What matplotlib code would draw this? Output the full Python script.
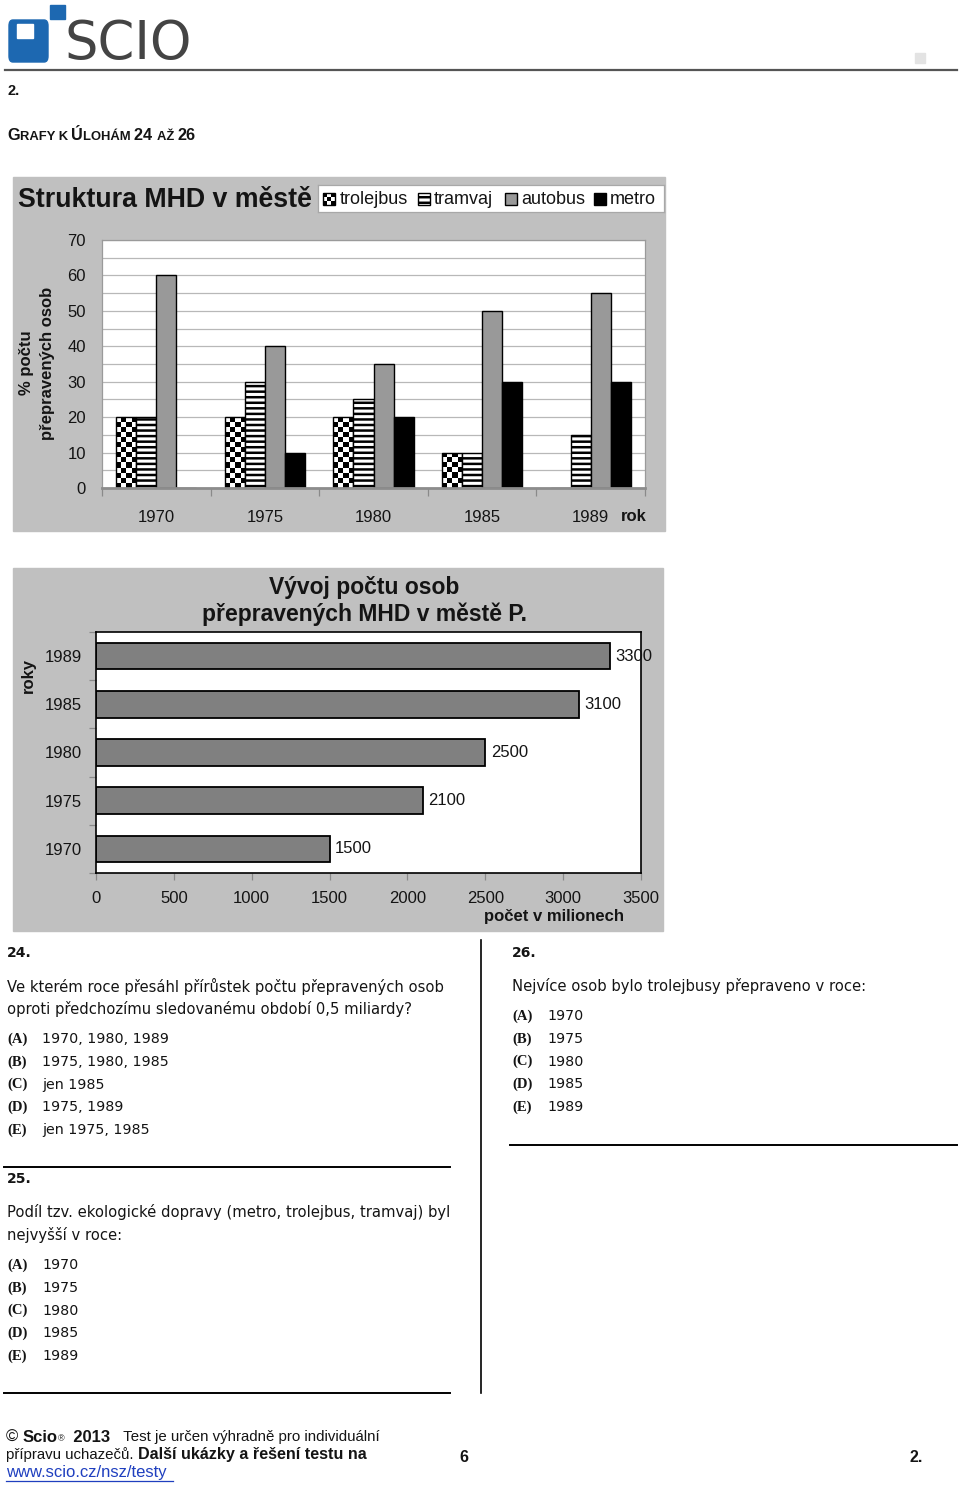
import numpy as np
import matplotlib
matplotlib.use('Agg')
import matplotlib.pyplot as plt
from matplotlib.patches import Rectangle, FancyBboxPatch
from matplotlib.offsetbox import TextArea, HPacker, AnnotationBbox

# data
years = ['1970', '1975', '1980', '1985', '1989']
trolejbus = [20, 20, 20, 10, 0]
tramvaj = [20, 30, 25, 10, 15]
autobus = [60, 40, 35, 50, 55]
metro = [0, 10, 20, 30, 30]
legend_names = ['trolejbus', 'tramvaj', 'autobus', 'metro']
osoby = [1500, 2100, 2500, 3100, 3300]   # pocet v milionech, 1970..1989

letters = ['(A)', '(B)', '(C)', '(D)', '(E)']
q24_text = ['Ve kterém roce přesáhl přírůstek počtu přepravených osob',
            'oproti předchozímu sledovanému období 0,5 miliardy?']
q24_opts = ['1970, 1980, 1989', '1975, 1980, 1985', 'jen 1985', '1975, 1989', 'jen 1975, 1985']
q25_text = ['Podíl tzv. ekologické dopravy (metro, trolejbus, tramvaj) byl',
            'nejvyšší v roce:']
q25_opts = years
q26_text = ['Nejvíce osob bylo trolejbusy přepraveno v roce:']
q26_opts = years

plt.rcParams['font.family'] = ['Liberation Sans', 'DejaVu Sans']
plt.rcParams['hatch.linewidth'] = 1.8

W, H = 960, 1485
fig = plt.figure(figsize=(9.6, 14.85), dpi=100)
fig.patch.set_facecolor('white')
INK = '#141414'
BODY = ['DejaVu Sans']


def fx(x):
    return x / W


def fy(y):
    return 1 - y / H


def box(x0, y0, x1, y1):
    return [fx(x0), fy(y1), (x1 - x0) / W, (y1 - y0) / H]


def txt(x, y, s, **kw):
    kw.setdefault('va', 'center')
    kw.setdefault('color', INK)
    return fig.text(fx(x), fy(y), s, **kw)


def rect(x0, y0, x1, y1, **kw):
    fig.add_artist(Rectangle((fx(x0), fy(y1)), (x1 - x0) / W, (y1 - y0) / H,
                             transform=fig.transFigure, **kw))


def hline(x0, x1, y, lw=1.5, color='black'):
    fig.add_artist(plt.Line2D([fx(x0), fx(x1)], [fy(y), fy(y)], lw=lw, color=color,
                              transform=fig.transFigure))


def vline(x, y0, y1, lw=1.5, color='black'):
    fig.add_artist(plt.Line2D([fx(x), fx(x)], [fy(y0), fy(y1)], lw=lw, color=color,
                              transform=fig.transFigure))


def pieces(x, y, parts):
    boxes = [TextArea(s, textprops=dict(color=INK, **p)) for s, p in parts]
    pack = HPacker(children=boxes, align='baseline', pad=0, sep=0)
    ab = AnnotationBbox(pack, (fx(x), fy(y)), xycoords='figure fraction',
                        box_alignment=(0, 0.5), frameon=False, pad=0)
    fig.add_artist(ab)


def checker(ax, x0, y0, w, h, ncols, cell, clip=None, z=1.5):
    nrows = max(1, int(np.ceil(h / cell)))
    img = np.indices((nrows, ncols)).sum(0) % 2
    im = ax.imshow(img, cmap='gray', vmin=0, vmax=1, origin='lower', interpolation='nearest',
                   extent=(x0, x0 + w, y0, y0 + nrows * cell), aspect='auto', zorder=z)
    if clip is not None:
        im.set_clip_path(clip)
    return im


# ---------------- header ----------------
blue = '#1d68b1'
fig.add_artist(FancyBboxPatch((fx(9), fy(62)), 39 / W, 42 / H,
                              boxstyle='round,pad=0,rounding_size=0.004',
                              transform=fig.transFigure, color=blue))
rect(50, 5, 65, 19, color=blue)
rect(17, 24, 33, 38, color='white')
txt(64, 44, 'SCIO', fontsize=38, color='#444444', family=['DejaVu Sans'], va='center')
hline(5, 957, 70, lw=1.6, color='#555555')
rect(915, 53, 925, 63, color='#e3e3e3')

txt(7, 91, '2.', fontsize=10.5, fontweight='bold', family=['Liberation Sans'])
big = dict(fontsize=11.7, fontweight='bold', family=['Liberation Sans'])
small = dict(fontsize=9.4, fontweight='bold', family=['Liberation Sans'])
pieces(7, 135, [('G', big), ('RAFY K ', small), ('Ú', big), ('LOHÁM ', small),
                ('24 ', big), ('AŽ ', small), ('26', big)])

# ---------------- chart 1 ----------------
rect(13, 177, 665, 531, color='#c0c0c0', zorder=-5)
ax1 = fig.add_axes(box(102, 240, 645, 488))
ax1.set_facecolor('white')
ax1.set_axisbelow(True)
bw = 0.185
xs = np.arange(len(years))
cell1 = 70 / 248 * 5.1

b_trol = ax1.bar(xs - 1.5 * bw, trolejbus, bw, facecolor='none', edgecolor='black', lw=1, zorder=2)
for p in b_trol.patches:
    if p.get_height() > 0:
        checker(ax1, p.get_x(), 0, p.get_width(), p.get_height(), 4, cell1, clip=p)
ax1.bar(xs - 0.5 * bw, tramvaj, bw, facecolor='white', edgecolor='black', lw=1,
        hatch='---', zorder=2)
ax1.bar(xs + 0.5 * bw, autobus, bw, facecolor='#999999', edgecolor='black', lw=1, zorder=2)
ax1.bar(xs + 1.5 * bw, metro, bw, facecolor='black', edgecolor='black', lw=1, zorder=2)

ax1.set_xlim(-0.5, len(years) - 0.5)
ax1.set_ylim(0, 70)
ax1.set_yticks(np.arange(0, 71, 10))
ax1.set_yticks(np.arange(5, 70, 10), minor=True)
ax1.yaxis.grid(True, which='both', color='#b8b8b8', lw=0.9)
ax1.set_xticks(xs)
ax1.set_xticklabels(years)
ax1.set_xticks(np.arange(-0.5, len(years)), minor=True)
ax1.tick_params(axis='x', which='major', length=0, pad=16, labelsize=12, labelcolor=INK)
ax1.tick_params(axis='x', which='minor', length=6, color='#8a8a8a', width=0.9)
ax1.tick_params(axis='y', which='both', length=0, pad=11.5, labelsize=12, labelcolor=INK)
for s in ['top', 'right', 'left']:
    ax1.spines[s].set_color('#9a9a9a')
    ax1.spines[s].set_linewidth(0.9)
ax1.spines['bottom'].set_color('#8c8c8c')
ax1.spines['bottom'].set_linewidth(2)

txt(18, 200, 'Struktura MHD v městě', fontsize=19.3, fontweight='bold', ha='left')
txt(634, 517, 'rok', fontsize=12, fontweight='bold', ha='center')
txt(27, 363, '% počtu', fontsize=12, fontweight='bold', rotation=90, ha='center')
txt(48, 363, 'přepravených osob', fontsize=12, fontweight='bold', rotation=90, ha='center')

# legend
axl = fig.add_axes(box(318, 185, 664, 212))
axl.set_xticks([])
axl.set_yticks([])
for s in axl.spines.values():
    s.set_color('#a8a8a8')
    s.set_linewidth(0.9)
icon_x = [5, 100, 187, 276]
text_x = [22, 116, 203, 292]
for i, name in enumerate(legend_names):
    r = Rectangle((icon_x[i], 8), 12, 12, lw=1, edgecolor='black', zorder=3,
                  facecolor=['none', 'white', '#999999', 'black'][i],
                  hatch='-' * 3 if i == 1 else None)
    axl.add_patch(r)
    if i == 0:
        checker(axl, icon_x[i], 8, 12, 12, 3, 4, clip=r)
    axl.text(text_x[i], 15, name, fontsize=13, va='center', ha='left', color=INK)
axl.set_xlim(0, 346)
axl.set_ylim(27, 0)

# ---------------- chart 2 ----------------
rect(13, 568, 663, 931, color='#c0c0c0', zorder=-5)
ax2 = fig.add_axes(box(96, 632, 641, 873))
ax2.set_facecolor('white')
b2 = ax2.barh(xs, osoby, height=0.55, color='#808080', edgecolor='black', lw=1.3)
ax2.bar_label(b2, labels=[str(v) for v in osoby], padding=4, fontsize=12, color=INK)
ax2.set_xlim(0, 3500)
ax2.set_ylim(-0.5, len(years) - 0.5)
ax2.set_xticks(np.arange(0, 3501, 500))
ax2.set_yticks(xs)
ax2.set_yticklabels(years)
ax2.set_yticks(np.arange(-0.5, len(years)), minor=True)
ax2.tick_params(axis='y', which='major', length=0, pad=10, labelsize=12, labelcolor=INK)
ax2.tick_params(axis='y', which='minor', length=5, color='#8a8a8a', width=0.9)
ax2.tick_params(axis='x', length=5, color='#8a8a8a', width=0.9, pad=8, labelsize=12,
                labelcolor=INK)
for s in ax2.spines.values():
    s.set_color('black')
    s.set_linewidth(1.2)

txt(364, 601, 'Vývoj počtu osob\npřepravených MHD v městě P.', fontsize=16.5,
    fontweight='bold', ha='center', linespacing=1.2)
txt(28, 675, 'roky', fontsize=12, fontweight='bold', rotation=90, ha='center')
txt(554, 916, 'počet v milionech', fontsize=12, fontweight='bold', ha='center')

# ---------------- questions ----------------
qfs = 10.6
optfs = 10.3


def question(x, y_num, num, lines, y_text, opts, y_opt):
    txt(x, y_num, num, fontsize=10, fontweight='bold', family=BODY)
    for k, line in enumerate(lines):
        txt(x, y_text + 23 * k, line, fontsize=qfs, family=BODY)
    for k, o in enumerate(opts):
        yy = y_opt + 22.8 * k
        txt(x, yy, letters[k], fontsize=10.5, fontweight='bold', family=['Liberation Serif'])
        txt(x + 35, yy, o, fontsize=optfs, family=BODY)


question(7, 953, '24.', q24_text, 986, q24_opts, 1039)
question(512, 953, '26.', q26_text, 986, q26_opts, 1016)
question(7, 1179, '25.', q25_text, 1212, q25_opts, 1265)

hline(510, 957, 1145, lw=1.4)
hline(4, 450, 1167, lw=1.4)
hline(4, 450, 1393, lw=1.4)
vline(481, 940, 1393, lw=1.2)

# ---------------- footer ----------------
reg = dict(fontsize=10.8, family=['Liberation Sans'])
bold = dict(fontsize=12, fontweight='bold', family=['Liberation Sans'])
pieces(6, 1437, [('© ', dict(fontsize=12, family=['Liberation Sans'])), ('Scio', bold),
                 ('®', dict(fontsize=6.5, family=['Liberation Sans'])), ('  2013', bold),
                 ('   Test je určen výhradně pro individuální', reg)])
pieces(6, 1455, [('přípravu uchazečů. ', reg),
                 ('Další ukázky a řešení testu na', dict(fontsize=11.6, fontweight='bold',
                                                         family=['Liberation Sans']))])
txt(6, 1473, 'www.scio.cz/nsz/testy', fontsize=12, color='#1f3fbf')
hline(6, 173, 1481, lw=0.9, color='#1f3fbf')
txt(464, 1458, '6', fontsize=11.5, fontweight='bold', ha='center')
txt(916, 1458, '2.', fontsize=11.5, fontweight='bold', ha='center')

fig.savefig('out.png', dpi=100)
